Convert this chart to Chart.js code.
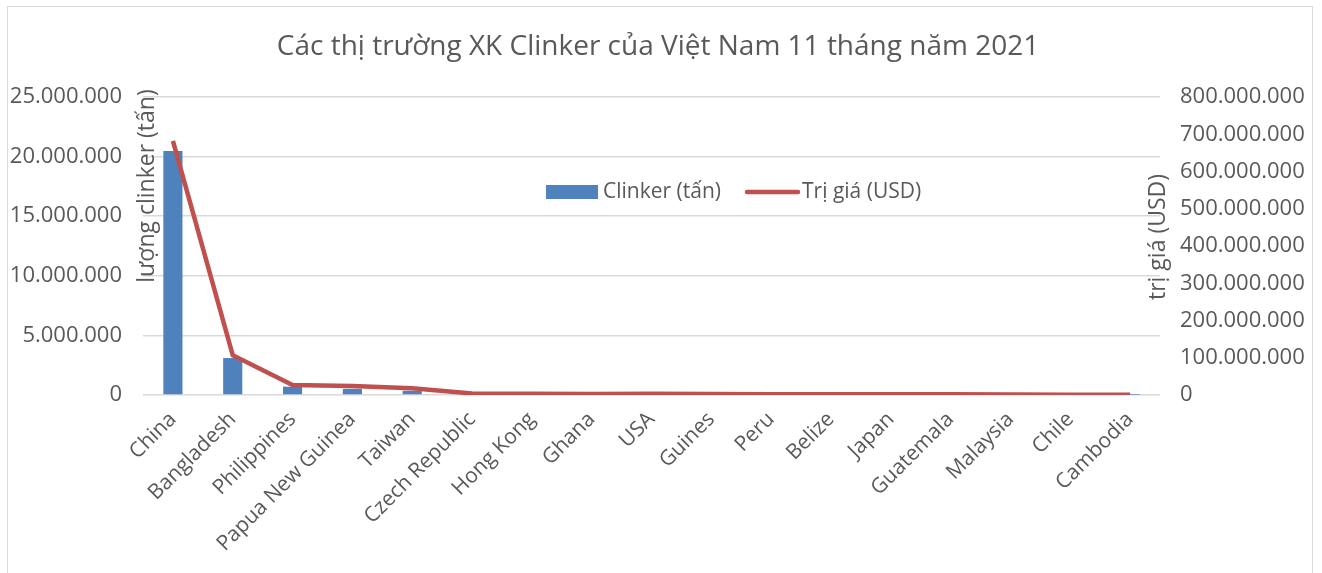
<!DOCTYPE html>
<html>
<head>
<meta charset="utf-8">
<script src="https://cdn.jsdelivr.net/npm/chart.js@4.4.0/dist/chart.umd.min.js"></script>
<style>
  body { margin: 0; background: #fff; }
</style>
</head>
<body>
<canvas id="graph" width="1322" height="573"></canvas>
<script>
const markets = ['China', 'Bangladesh', 'Philippines', 'Papua New Guinea', 'Taiwan', 'Czech Republic',
    'Hong Kong', 'Ghana', 'USA', 'Guines', 'Peru', 'Belize', 'Japan', 'Guatemala', 'Malaysia', 'Chile', 'Cambodia'];
const clinkerTons = [20480000, 3100000, 700000, 520000, 360000, 120000, 100000, 80000, 100000, 70000,
    60000, 50000, 50000, 50000, 30000, 20000, 10000];
const valueUsd = [682000000, 107000000, 27000000, 24000000, 18000000, 4000000, 3500000, 3000000, 3500000,
    2500000, 2300000, 2000000, 2000000, 2000000, 1200000, 1000000, 400000];

const titleText = 'Các thị trường XK Clinker của Việt Nam 11 tháng năm 2021';
const leftTitle = 'lượng clinker (tấn)';
const rightTitle = 'trị giá (USD)';

const textColor = '#595959';
const fontFamily = '"Open Sans", sans-serif';

const fmt = (v) => String(Math.round(v)).replace(/\B(?=(\d{3})+(?!\d))/g, '.');

// title, axis titles, legend and frame drawn by hand (Excel-like placement)
const extras = {
    id: 'extras',
    beforeDraw(chart) {
        const ctx = chart.ctx;
        ctx.save();
        ctx.fillStyle = '#fff';
        ctx.fillRect(0, 0, chart.width, chart.height);
        ctx.strokeStyle = '#d9d9d9';
        ctx.lineWidth = 1;
        ctx.strokeRect(7.5, 6.5, 1305, 620);
        ctx.restore();
    },
    afterDraw(chart) {
        const ctx = chart.ctx;
        const area = chart.chartArea;
        ctx.save();
        ctx.fillStyle = textColor;
        ctx.textAlign = 'center';
        ctx.textBaseline = 'middle';
        ctx.font = '28px ' + fontFamily;
        ctx.fillText(titleText, 658, 47);

        ctx.font = '23px ' + fontFamily;
        ctx.save();
        ctx.translate(area.left + 4, 186);
        ctx.rotate(-Math.PI / 2);
        ctx.fillText(leftTitle, 0, 0);
        ctx.restore();
        ctx.save();
        ctx.translate(area.right - 2, 237);
        ctx.rotate(-Math.PI / 2);
        ctx.fillText(rightTitle, 0, 0);
        ctx.restore();

        // legend
        const bar = chart.data.datasets[1];
        const line = chart.data.datasets[0];
        const ly = 192;
        ctx.font = '21px ' + fontFamily;
        ctx.textAlign = 'left';
        ctx.fillStyle = bar.backgroundColor;
        ctx.fillRect(546, ly - 7, 52, 14);
        ctx.fillStyle = textColor;
        ctx.fillText(bar.label, 603, ly);
        ctx.strokeStyle = line.borderColor;
        ctx.lineWidth = 4.5;
        ctx.lineCap = 'round';
        ctx.beginPath();
        ctx.moveTo(747, ly);
        ctx.lineTo(798, ly);
        ctx.stroke();
        ctx.fillText(line.label, 802, ly);
        ctx.restore();
    }
};

const config = {
    data: {
        labels: markets,
        datasets: [{
            type: 'line',
            label: 'Trị giá (USD)',
            data: valueUsd,
            yAxisID: 'y1',
            borderColor: '#c0504d',
            backgroundColor: '#c0504d',
            borderWidth: 4.5,
            pointRadius: 0,
            tension: 0,
            order: 0
        }, {
            type: 'bar',
            label: 'Clinker (tấn)',
            data: clinkerTons,
            yAxisID: 'y',
            backgroundColor: '#4f81bd',
            barPercentage: 1,
            categoryPercentage: 0.32,
            order: 1
        }]
    },
    options: {
        responsive: false,
        animation: false,
        layout: { padding: { top: 97, left: 8, right: 8, bottom: 0 } },
        plugins: {
            legend: { display: false },
            title: { display: false },
            tooltip: { enabled: false }
        },
        scales: {
            x: {
                grid: { display: false },
                border: { display: false },
                ticks: {
                    color: textColor,
                    font: { family: fontFamily, size: 21 },
                    maxRotation: 45,
                    minRotation: 45,
                    autoSkip: false,
                    padding: 4
                },
                afterFit: (s) => { s.height = 178; }
            },
            y: {
                position: 'left',
                min: 0,
                max: 25000000,
                grid: { color: '#d9d9d9', lineWidth: 1.5, drawTicks: false },
                border: { display: false },
                ticks: {
                    stepSize: 5000000,
                    color: textColor,
                    font: { family: fontFamily, size: 22 },
                    padding: 21,
                    callback: (v) => fmt(v)
                },
                afterFit: (s) => { s.width = 135; }
            },
            y1: {
                position: 'right',
                min: 0,
                max: 800000000,
                grid: { display: false, drawTicks: false },
                border: { display: false },
                ticks: {
                    stepSize: 100000000,
                    color: textColor,
                    font: { family: fontFamily, size: 22 },
                    padding: 20,
                    callback: (v) => fmt(v)
                },
                afterFit: (s) => { s.width = 154; }
            }
        }
    },
    plugins: [extras]
};

const graph = document.querySelector('#graph');
new Chart(graph, config);
</script>
</body>
</html>
